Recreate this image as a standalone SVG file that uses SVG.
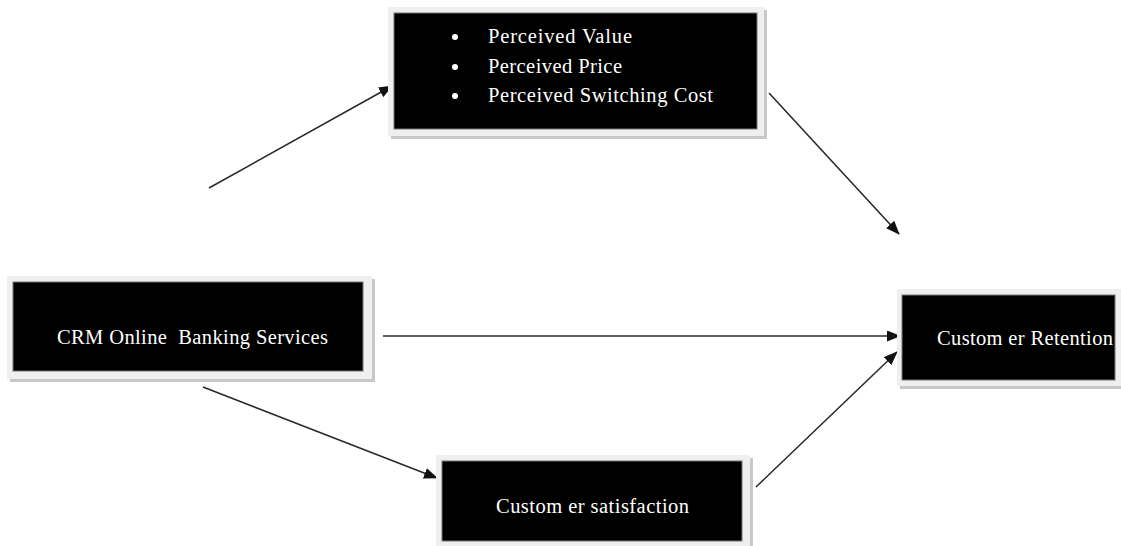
<svg xmlns="http://www.w3.org/2000/svg" width="1121" height="546" viewBox="0 0 1121 546">
<defs>
<marker id="ah" markerWidth="14" markerHeight="11" refX="13" refY="5.5" orient="auto" markerUnits="userSpaceOnUse">
<path d="M0,0 L14,5.5 L0,11 Z" fill="#111"/>
</marker>
<style>
.shadow{fill:#c8c8c8}
.frame{fill:#efefef}
.box{fill:#000;stroke:#777;stroke-width:1}
.t{font-family:"Liberation Serif","Times New Roman",serif;font-size:20.5px;fill:#fff}
.c{stroke:#2a2a2a;stroke-width:1.6;fill:none;marker-end:url(#ah)}
</style>
</defs>
<rect width="1121" height="546" fill="#fff"/>
<g id="connectors">
<line class="c" x1="209" y1="188" x2="392" y2="86"/>
<line class="c" x1="769" y1="93" x2="899" y2="234"/>
<line class="c" x1="383" y1="336" x2="900" y2="336"/>
<line class="c" x1="203" y1="387" x2="437" y2="478"/>
<line class="c" x1="756" y1="487" x2="897" y2="352"/>
</g>
<g id="node-perceived">
<rect class="shadow" x="391" y="10" width="376" height="129"/>
<rect class="frame" x="388" y="7" width="376" height="129"/>
<rect class="box" x="394" y="13" width="363" height="116"/>
<circle cx="455" cy="37" r="3" fill="#fff"/>
<circle cx="455" cy="67" r="3" fill="#fff"/>
<circle cx="455" cy="96" r="3" fill="#fff"/>
<text class="t" x="488" y="43" textLength="144" lengthAdjust="spacing">Perceived Value</text>
<text class="t" x="488" y="73" textLength="134" lengthAdjust="spacing">Perceived Price</text>
<text class="t" x="488" y="102" textLength="225" lengthAdjust="spacing">Perceived Switching Cost</text>
</g>
<g id="node-crm">
<rect class="shadow" x="10" y="279" width="365" height="103"/>
<rect class="frame" x="7" y="276" width="365" height="103"/>
<rect class="box" x="13" y="282" width="350" height="89"/>
<text class="t" x="57" y="344" textLength="271" lengthAdjust="spacing" xml:space="preserve">CRM Online  Banking Services</text>
</g>
<g id="node-retention">
<rect class="shadow" x="900" y="292" width="225" height="97"/>
<rect class="frame" x="897" y="289" width="230" height="97"/>
<rect class="box" x="902" y="295" width="213" height="85"/>
<text class="t" x="937" y="345" textLength="176" lengthAdjust="spacing">Custom er Retention</text>
</g>
<g id="node-satisfaction">
<rect class="shadow" x="439" y="458" width="314" height="95"/>
<rect class="frame" x="436" y="455" width="314" height="95"/>
<rect class="box" x="442" y="461" width="300" height="80"/>
<text class="t" x="496" y="513" textLength="193" lengthAdjust="spacing">Custom er satisfaction</text>
</g>
</svg>
